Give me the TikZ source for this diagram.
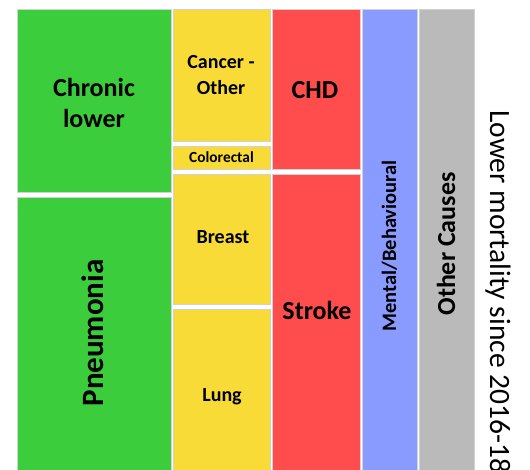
\documentclass[tikz,border=0pt]{standalone}
\usepackage{fontspec}
\setmainfont{Carlito}
\definecolor{respgreen}{HTML}{3BCD3B}
\definecolor{canceryellow}{HTML}{F8DB36}
\definecolor{circred}{HTML}{FF4C4C}
\definecolor{mentalblue}{HTML}{8A9BFF}
\definecolor{othergrey}{HTML}{BABABA}
\begin{document}
\begin{tikzpicture}[x=1pt, y=-1pt,
    cell/.style={draw=white!82!black, line width=0.6pt},
    lbl/.style={inner sep=0pt, align=center}]
    \useasboundingbox (0,0) rectangle (530,470);
    \clip (0,0) rectangle (530,470);

    % Cells
    \filldraw[cell, fill=respgreen] (17,9.5) rectangle (171,192);
    \filldraw[cell, fill=respgreen] (17,197) rectangle (171,480);

    \filldraw[cell, fill=canceryellow] (173,9.5) rectangle (270,141);
    \filldraw[cell, fill=canceryellow] (173,146) rectangle (270,169);
    \filldraw[cell, fill=canceryellow] (173,174) rectangle (270,304);
    \filldraw[cell, fill=canceryellow] (173,309) rectangle (270,480);

    \filldraw[cell, fill=circred] (272,9.5) rectangle (360,169.5);
    \filldraw[cell, fill=circred] (272,174) rectangle (360,480);

    \filldraw[cell, fill=mentalblue] (362,9.5) rectangle (417,480);
    \filldraw[cell, fill=othergrey] (419,9.5) rectangle (474,480);

    % Labels
    \node[lbl, font=\bfseries\fontsize{26}{31}\selectfont] (chronic) at (94,103) {Chronic\\lower};
    \node[lbl, font=\bfseries\fontsize{31}{37}\selectfont, rotate=90] (pneumonia) at (93,333) {Pneumonia};

    \node[lbl, font=\bfseries\fontsize{20}{26}\selectfont] (cancerother) at (221,75) {Cancer -\\Other};
    \node[lbl, font=\bfseries\fontsize{15.4}{18}\selectfont] (colorectal) at (221.5,157.5) {Colorectal};
    \node[lbl, font=\bfseries\fontsize{20}{24}\selectfont] (breast) at (223,237) {Breast};
    \node[lbl, font=\bfseries\fontsize{20}{24}\selectfont] (lung) at (222,397) {Lung};

    \node[lbl, font=\bfseries\fontsize{26}{31}\selectfont] (chd) at (315,90) {CHD};
    \node[lbl, font=\bfseries\fontsize{26}{31}\selectfont] (stroke) at (317,310) {Stroke};

    \node[lbl, font=\bfseries\fontsize{20.5}{24}\selectfont, rotate=90] (mental) at (389.5,246) {Mental/Behavioural};
    \node[lbl, font=\bfseries\fontsize{26}{31}\selectfont, rotate=90] (othercauses) at (446,244) {Other Causes};

    % Side note
    \node[inner sep=0pt, anchor=base west, rotate=-90, font=\fontsize{29.5}{35}\selectfont] (sidenote) at (490,110) {Lower mortality since 2016-18};
\end{tikzpicture}
\end{document}
